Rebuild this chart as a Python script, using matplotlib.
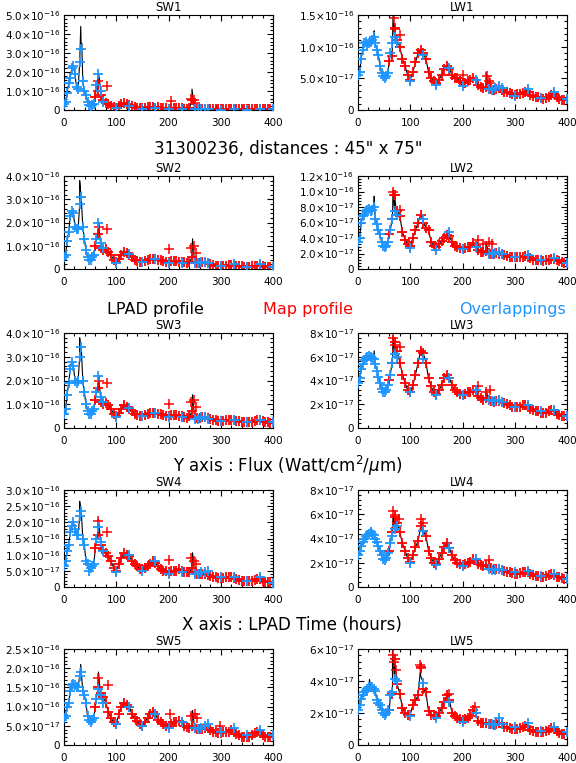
import numpy as np
import matplotlib
matplotlib.use("Agg")
import matplotlib.pyplot as plt
from matplotlib.ticker import MultipleLocator, AutoMinorLocator, FuncFormatter

# time samples (hours) shared by every band
t_ovl = [0, 3, 6, 9, 12, 15, 18, 21, 24, 27, 30, 33, 36, 39, 42, 45, 48, 51, 54, 57,
         62, 66, 70, 74, 99, 125, 150, 175, 200, 225, 250, 256, 263, 270, 276,
         300, 325, 350, 375, 400]
t_map = list(range(60, 400, 5))

# ---- SW1 (1e-16) ----
sw1_ovl = [0.3, 0.4, 0.9, 1.4, 1.7, 2.2, 2.3, 1.9, 1.2, 1.1, 2.5, 3.2, 1.5, 1.0, 0.8, 0.4, 0.25, 0.2, 0.25, 0.3,
           1.3, 1.9, 1.0, 0.4, 0.1, 0.2, 0.05, 0.1, 0.05, 0.05, 0.03, 0.03, 0.05, 0.03, 0.05,
           0.02, 0.05, 0.02, 0.05, 0.03]
sw1_map = [0.7, 1.0, 0.8, 0.5, 0.35, 0.3, 0.2, 0.15, 0.1, 0.2, 0.3, 0.35, 0.3, 0.25, 0.2, 0.15, 0.12,
           0.1, 0.08, 0.1, 0.15, 0.18, 0.15, 0.12, 0.15, 0.12, 0.1, 0.08, 0.06, 0.1, 0.12, 0.12, 0.1,
           0.08, 0.06, 0.05, 0.1, 0.5, 0.1, 0.05, 0.05, 0.05, 0.06, 0.05, 0.04, 0.05, 0.04, 0.03, 0.03,
           0.04, 0.05, 0.05, 0.05, 0.05, 0.04, 0.03, 0.03, 0.03, 0.03, 0.03, 0.04, 0.05, 0.05, 0.05,
           0.04, 0.03, 0.03, 0.03]
sw1_out = [(66, 1.5), (82, 1.25), (205, 0.45), (243, 0.6), (248, 0.55), (250, 0.35)]
sw1_spk = [(32, 4.4), (34, 3.5), (68, 1.6), (245, 1.1), (292, 0.2)]

# ---- LW1 (1e-17) ----
lw1_ovl = [5.6, 6.0, 8.0, 9.5, 10.5, 10.8, 10.3, 10.6, 10.8, 11.0, 11.5, 10.5, 9.5, 8.7, 7.0, 5.8, 5.3, 5.1, 5.4, 5.8,
           9.0, 10.5, 11.5, 10.5, 4.5, 8.7, 4.0, 6.6, 3.8, 4.8, 3.3, 3.2, 3.4, 3.8, 3.5,
           2.2, 3.3, 1.9, 2.9, 1.8]
lw1_map = [7.8, 8.5, 13.0, 11.0, 10.0, 8.0, 7.0, 5.5, 4.8, 6.0, 7.5, 9.0, 9.5, 9.0, 8.0, 6.0, 5.0, 4.5,
           4.3, 4.8, 5.5, 6.5, 7.0, 6.5, 5.5, 5.0, 5.0, 4.5, 4.2, 4.3, 4.5, 4.8, 5.0, 4.8, 4.0, 3.7,
           3.5, 3.6, 3.4, 3.3, 3.2, 3.3, 3.4, 3.2, 2.9, 2.8, 2.7, 2.5, 2.4, 2.5, 2.6, 2.7, 2.9, 2.8,
           2.4, 2.2, 2.0, 2.0, 1.9, 1.8, 1.9, 2.1, 2.4, 2.6, 2.1, 1.8, 1.6, 1.5]
lw1_out = [(68, 14.5), (70, 12.8), (80, 11.8), (201, 5.6), (246, 5.3), (250, 4.6), (252, 4.3)]
lw1_spk = [(31, 12.5), (67, 15.0), (245, 6.0)]

# ---- SW2 (1e-16) ----
sw2_ovl = [0.5, 0.6, 1.2, 1.6, 2.3, 2.5, 2.4, 1.8, 1.7, 1.7, 2.8, 3.1, 1.8, 1.3, 0.8, 0.5, 0.4, 0.4, 0.5, 0.6,
           1.3, 2.0, 1.1, 0.9, 0.25, 0.65, 0.3, 0.45, 0.25, 0.25, 0.25, 0.25, 0.3, 0.3, 0.25,
           0.15, 0.2, 0.1, 0.2, 0.1]
sw2_map = [1.0, 1.5, 0.9, 0.8, 0.85, 0.75, 0.6, 0.4, 0.3, 0.45, 0.6, 0.75, 0.7, 0.6, 0.5, 0.4, 0.35,
           0.3, 0.3, 0.35, 0.4, 0.45, 0.45, 0.45, 0.4, 0.4, 0.35, 0.3, 0.3, 0.35, 0.35, 0.35, 0.3,
           0.3, 0.28, 0.25, 0.3, 0.5, 0.3, 0.25, 0.25, 0.28, 0.3, 0.25, 0.2, 0.18, 0.15, 0.15, 0.15,
           0.15, 0.15, 0.18, 0.18, 0.18, 0.15, 0.12, 0.12, 0.1, 0.1, 0.1, 0.12, 0.15, 0.15, 0.15,
           0.12, 0.1, 0.1, 0.1]
sw2_out = [(67, 1.8), (83, 1.7), (200, 0.85), (243, 0.9), (248, 1.0), (252, 0.7)]
sw2_spk = [(30, 3.8), (32, 3.3), (246, 1.3)]

# ---- LW2 (1e-17) ----
lw2_ovl = [3.5, 4.0, 6.0, 6.8, 7.0, 7.5, 7.6, 7.8, 7.5, 7.6, 8.0, 6.5, 5.8, 5.0, 4.5, 3.5, 3.0, 2.8, 3.0, 3.5,
           5.0, 6.5, 7.5, 7.0, 2.7, 6.4, 2.5, 4.8, 2.6, 2.9, 2.0, 2.0, 2.1, 2.2, 2.0,
           1.5, 1.8, 1.2, 1.4, 0.8]
lw2_map = [4.5, 6.5, 9.5, 7.5, 6.8, 4.8, 3.8, 3.2, 3.0, 4.0, 5.0, 6.0, 7.0, 6.0, 5.3, 5.0, 3.5, 3.0,
           2.8, 3.2, 3.6, 4.0, 4.4, 4.2, 3.5, 3.0, 2.8, 2.7, 2.6, 2.7, 2.8, 2.9, 3.3, 3.0, 2.5, 2.2,
           2.2, 2.3, 2.1, 2.0, 2.0, 2.1, 2.0, 1.9, 1.8, 1.7, 1.6, 1.5, 1.5, 1.5, 1.5, 1.6, 1.7, 1.6,
           1.4, 1.2, 1.1, 1.1, 1.1, 1.0, 1.1, 1.2, 1.3, 1.3, 1.1, 1.0, 0.9, 0.8]
lw2_out = [(67, 10.0), (69, 9.6), (80, 7.6), (229, 3.7), (240, 3.2), (250, 3.5), (257, 3.2)]
lw2_spk = [(31, 9.4), (67, 10.2), (245, 3.5)]

# ---- SW3 (1e-16) ----
sw3_ovl = [0.6, 0.8, 1.4, 1.9, 2.5, 2.8, 2.6, 2.0, 1.9, 2.0, 3.0, 3.4, 2.0, 1.5, 1.0, 0.7, 0.6, 0.6, 0.7, 0.8,
           1.5, 2.2, 1.3, 1.1, 0.45, 0.85, 0.5, 0.65, 0.45, 0.45, 0.4, 0.4, 0.45, 0.45, 0.4,
           0.3, 0.35, 0.25, 0.35, 0.25]
sw3_map = [1.2, 1.7, 1.1, 1.0, 1.05, 0.95, 0.8, 0.6, 0.5, 0.65, 0.8, 0.95, 0.9, 0.8, 0.7, 0.6, 0.55,
           0.5, 0.5, 0.55, 0.6, 0.65, 0.65, 0.65, 0.6, 0.6, 0.55, 0.5, 0.5, 0.55, 0.55, 0.55, 0.5,
           0.5, 0.45, 0.42, 0.5, 0.7, 0.45, 0.42, 0.42, 0.45, 0.45, 0.42, 0.38, 0.35, 0.32, 0.3, 0.3,
           0.3, 0.32, 0.35, 0.35, 0.35, 0.3, 0.28, 0.26, 0.25, 0.25, 0.25, 0.27, 0.3, 0.32, 0.32,
           0.28, 0.25, 0.24, 0.23]
sw3_out = [(67, 2.0), (83, 1.9), (200, 1.0), (243, 1.1), (248, 1.2), (252, 0.9)]
sw3_spk = [(30, 3.8), (32, 3.3), (246, 1.4)]

# ---- LW3 (1e-17) ----
lw3_ovl = [3.8, 4.2, 5.0, 5.4, 5.7, 5.9, 6.0, 6.1, 6.0, 5.9, 5.8, 5.4, 4.8, 4.3, 3.8, 3.3, 3.0, 3.0, 3.2, 3.6,
           4.5, 5.5, 6.2, 6.0, 3.0, 5.8, 2.8, 4.2, 2.8, 3.2, 2.4, 2.3, 2.3, 2.4, 2.2,
           1.8, 1.9, 1.4, 1.5, 1.0]
lw3_map = [4.0, 5.5, 7.2, 6.5, 5.5, 4.5, 3.8, 3.2, 3.0, 3.6, 4.5, 5.5, 6.5, 6.3, 5.5, 4.2, 3.5, 3.0,
           2.9, 3.2, 3.6, 4.2, 4.5, 4.2, 3.6, 3.2, 3.0, 2.9, 2.8, 2.9, 3.0, 3.0, 3.2, 3.1, 2.7, 2.5,
           2.4, 2.5, 2.4, 2.3, 2.2, 2.3, 2.3, 2.2, 2.1, 2.0, 1.9, 1.8, 1.8, 1.8, 1.8, 1.9, 1.9, 1.8,
           1.6, 1.5, 1.4, 1.4, 1.3, 1.3, 1.3, 1.4, 1.5, 1.4, 1.2, 1.1, 1.0, 1.0]
lw3_out = [(67, 7.6), (70, 7.0), (80, 6.8), (229, 3.5), (245, 3.0), (252, 3.2)]
lw3_spk = [(31, 6.5), (67, 7.8), (245, 3.2)]

# ---- SW4 (1e-16) ----
sw4_ovl = [0.65, 0.8, 1.1, 1.3, 1.7, 1.9, 2.0, 1.8, 1.6, 1.6, 2.2, 2.35, 1.5, 1.3, 0.8, 0.7, 0.5, 0.6, 0.65, 0.7,
           1.5, 1.85, 1.4, 1.1, 0.45, 1.0, 0.5, 0.8, 0.4, 0.45, 0.4, 0.4, 0.45, 0.45, 0.5,
           0.3, 0.3, 0.2, 0.3, 0.12]
sw4_map = [1.2, 1.6, 1.3, 1.15, 1.05, 0.95, 0.8, 0.6, 0.5, 0.7, 0.9, 1.05, 1.0, 0.95, 0.8, 0.7, 0.65,
           0.55, 0.55, 0.6, 0.65, 0.7, 0.8, 0.75, 0.65, 0.55, 0.5, 0.5, 0.45, 0.5, 0.5, 0.5, 0.55,
           0.5, 0.45, 0.45, 0.45, 0.6, 0.45, 0.4, 0.4, 0.4, 0.4, 0.38, 0.35, 0.3, 0.3, 0.28, 0.28,
           0.28, 0.3, 0.3, 0.3, 0.28, 0.25, 0.22, 0.2, 0.2, 0.2, 0.18, 0.2, 0.22, 0.25, 0.25,
           0.2, 0.17, 0.15, 0.14]
sw4_out = [(66, 2.05), (83, 1.7), (200, 0.85), (243, 0.9), (248, 0.8), (252, 0.7)]
sw4_spk = [(30, 2.65), (32, 2.4), (66, 2.1), (246, 1.06)]

# ---- LW4 (1e-17) ----
lw4_ovl = [2.6, 3.0, 3.4, 3.7, 4.0, 4.2, 4.3, 4.4, 4.5, 4.4, 4.3, 4.0, 3.7, 3.4, 3.0, 2.6, 2.3, 2.2, 2.4, 2.8,
           3.6, 4.2, 4.8, 5.0, 2.0, 4.6, 1.8, 3.2, 1.7, 2.3, 1.5, 1.4, 1.4, 1.5, 1.4,
           1.2, 1.3, 0.9, 1.1, 0.7]
lw4_map = [3.0, 4.5, 5.8, 5.3, 4.5, 3.6, 3.0, 2.4, 2.1, 2.6, 3.3, 3.8, 5.0, 4.6, 4.2, 3.0, 2.4, 2.0,
           1.9, 2.3, 2.8, 3.3, 3.6, 3.2, 2.6, 2.2, 2.0, 1.9, 1.8, 1.9, 2.0, 2.1, 2.3, 2.2, 1.9, 1.8,
           1.7, 1.8, 1.7, 1.6, 1.5, 1.5, 1.5, 1.4, 1.3, 1.25, 1.2, 1.15, 1.1, 1.1, 1.15, 1.2, 1.25, 1.2,
           1.05, 0.95, 0.9, 0.9, 0.85, 0.85, 0.9, 0.95, 1.05, 1.0, 0.85, 0.8, 0.75, 0.7]
lw4_out = [(67, 6.3), (70, 5.9), (78, 5.6), (120, 5.6), (124, 5.3), (230, 2.0), (251, 2.2)]
lw4_spk = [(24, 4.9), (67, 6.0), (120, 5.4)]

# ---- SW5 (1e-16) ----
sw5_ovl = [0.7, 0.75, 1.0, 1.1, 1.4, 1.55, 1.6, 1.55, 1.5, 1.5, 1.8, 1.9, 1.4, 1.3, 1.1, 0.75, 0.65, 0.6, 0.65, 0.7,
           1.2, 1.45, 1.3, 1.1, 0.55, 1.0, 0.5, 0.8, 0.45, 0.6, 0.45, 0.42, 0.45, 0.5, 0.55,
           0.35, 0.45, 0.25, 0.4, 0.25]
sw5_map = [1.0, 1.5, 1.35, 1.25, 1.1, 0.85, 0.7, 0.6, 0.55, 0.8, 1.0, 1.1, 1.05, 1.0, 0.8, 0.7, 0.62,
           0.55, 0.5, 0.6, 0.7, 0.8, 0.85, 0.8, 0.65, 0.6, 0.55, 0.5, 0.5, 0.55, 0.6, 0.6, 0.62,
           0.6, 0.5, 0.48, 0.45, 0.5, 0.45, 0.42, 0.42, 0.42, 0.45, 0.45, 0.38, 0.35, 0.33, 0.32, 0.32,
           0.33, 0.35, 0.35, 0.38, 0.35, 0.28, 0.25, 0.22, 0.22, 0.22, 0.22, 0.25, 0.3, 0.35, 0.32,
           0.25, 0.22, 0.2, 0.2]
sw5_out = [(66, 1.75), (84, 1.55), (202, 0.8), (244, 0.75), (250, 0.8), (255, 0.7), (298, 0.5)]
sw5_spk = [(32, 2.1), (66, 1.9), (246, 0.9)]

# ---- LW5 (1e-17) ----
lw5_ovl = [2.2, 2.5, 2.9, 3.1, 3.3, 3.4, 3.5, 3.6, 3.65, 3.6, 3.5, 3.4, 2.8, 2.6, 2.5, 2.2, 2.0, 1.9, 2.0, 2.2,
           3.1, 3.3, 4.1, 4.0, 1.8, 3.9, 1.7, 2.7, 1.45, 2.0, 1.3, 1.3, 1.25, 1.7, 1.3,
           1.1, 1.35, 0.85, 1.15, 0.8]
lw5_map = [2.2, 3.2, 5.4, 3.8, 3.2, 2.3, 2.0, 1.9, 1.9, 2.5, 2.8, 3.1, 4.9, 3.5, 3.3, 2.1, 1.9, 1.9,
           1.8, 2.0, 2.3, 2.7, 3.1, 2.8, 2.0, 1.8, 1.7, 1.6, 1.55, 1.6, 1.7, 1.8, 2.2, 2.0, 1.5, 1.4,
           1.35, 1.4, 1.3, 1.3, 1.25, 1.3, 1.35, 1.3, 1.15, 1.1, 1.05, 1.0, 1.0, 1.0, 1.05, 1.1, 1.2, 1.1,
           0.95, 0.85, 0.8, 0.8, 0.8, 0.8, 0.85, 0.95, 1.05, 1.0, 0.85, 0.75, 0.7, 0.7]
lw5_out = [(67, 5.6), (69, 5.2), (72, 4.7), (118, 5.0), (121, 4.8), (174, 3.2), (224, 2.4)]
lw5_spk = [(22, 4.1), (66, 5.95), (120, 4.3)]

names = ["SW1", "LW1", "SW2", "LW2", "SW3", "LW3", "SW4", "LW4", "SW5", "LW5"]
units = [1e-16, 1e-17] * 5
band_ovl = [sw1_ovl, lw1_ovl, sw2_ovl, lw2_ovl, sw3_ovl, lw3_ovl, sw4_ovl, lw4_ovl, sw5_ovl, lw5_ovl]
band_map = [sw1_map, lw1_map, sw2_map, lw2_map, sw3_map, lw3_map, sw4_map, lw4_map, sw5_map, lw5_map]
band_out = [sw1_out, lw1_out, sw2_out, lw2_out, sw3_out, lw3_out, sw4_out, lw4_out, sw5_out, lw5_out]
band_spk = [sw1_spk, lw1_spk, sw2_spk, lw2_spk, sw3_spk, lw3_spk, sw4_spk, lw4_spk, sw5_spk, lw5_spk]

# axis settings: (ymax, major step, decimals) in the band's unit
yaxis = [(5.0, 1.0, 1), (15.0, 5.0, 1), (4.0, 1.0, 1), (12.0, 2.0, 1), (4.0, 1.0, 1),
         (8.0, 2.0, 0), (3.0, 0.5, 1), (8.0, 2.0, 0), (2.5, 0.5, 1), (6.0, 2.0, 0)]

RED = "#ff0000"
BLUE = "#1e96ff"


def sci_formatter(dec):
    def fmt(v, pos):
        if abs(v) < 1e-30:
            return "0"
        e = int(np.floor(np.log10(abs(v)) + 1e-6))
        m = v / 10.0 ** e
        return r"$%.*f{\times}10^{%d}$" % (dec, m, e)
    return FuncFormatter(fmt)


W, H = 576, 763
fig = plt.figure(figsize=(W / 100, H / 100), dpi=100)
plt.rcParams["font.family"] = "DejaVu Sans"
plt.rcParams["mathtext.fontset"] = "dejavusans"

tops = [15, 176, 333, 490, 649]
bottoms = [110, 269, 428, 587, 745]
lefts = [64, 358]
width = 209

for i, name in enumerate(names):
    row, col = i // 2, i % 2
    ax = fig.add_axes([lefts[col] / W, 1 - bottoms[row] / H,
                       width / W, (bottoms[row] - tops[row]) / H])
    u = units[i]
    ymax, step, dec = yaxis[i]

    ovl = np.array(band_ovl[i]) * u
    mp = np.array(band_map[i]) * u
    out_t = [p[0] for p in band_out[i]]
    out_y = np.array([p[1] for p in band_out[i]]) * u
    spk_t = [p[0] for p in band_spk[i]]
    spk_y = np.array([p[1] for p in band_spk[i]]) * u

    # LPAD profile: line through all samples including the spikes
    lt = np.concatenate([t_ovl, t_map, spk_t])
    ly = np.concatenate([ovl, mp, spk_y])
    order = np.argsort(lt, kind="stable")
    ax.plot(lt[order], ly[order], color="black", lw=0.8, zorder=1)

    ax.plot(t_map, mp, "+", color=RED, ms=7, mew=1.3, zorder=2)
    ax.plot(out_t, out_y, "+", color=RED, ms=7, mew=1.1, zorder=2)
    ax.plot(t_ovl, ovl, "+", color=BLUE, ms=7, mew=1.3, zorder=3)

    ax.set_xlim(0, 400)
    ax.set_ylim(0, ymax * u)
    ax.xaxis.set_major_locator(MultipleLocator(100))
    ax.xaxis.set_minor_locator(AutoMinorLocator(5))
    ax.yaxis.set_major_locator(MultipleLocator(step * u))
    ax.yaxis.set_minor_locator(AutoMinorLocator(5))
    ax.yaxis.set_major_formatter(sci_formatter(dec))
    ax.tick_params(which="both", direction="in", top=True, right=True, labelsize=7.5)
    ax.tick_params(which="major", length=4, width=0.8)
    ax.tick_params(which="minor", length=2, width=0.8)
    ax.tick_params(axis="x", pad=6)
    ax.tick_params(axis="y", pad=3)
    for s in ax.spines.values():
        s.set_linewidth(0.8)
    ax.set_title(name, fontsize=8.5, pad=3)

fig.text(288 / W, 1 - 149 / H, '31300236, distances : 45" x 75"', ha="center", va="center", fontsize=12)
fig.text(107 / W, 1 - 309 / H, "LPAD profile", ha="left", va="center", fontsize=11.5, color="black")
fig.text(308 / W, 1 - 309 / H, "Map profile", ha="center", va="center", fontsize=11.5, color=RED)
fig.text(566 / W, 1 - 309 / H, "Overlappings", ha="right", va="center", fontsize=11.5, color=BLUE)
fig.text(288 / W, 1 - 466 / H, r"Y axis : Flux (Watt/cm$^2$/$\mu$m)", ha="center", va="center", fontsize=12)
fig.text(292 / W, 1 - 625 / H, "X axis : LPAD Time (hours)", ha="center", va="center", fontsize=12)

fig.savefig("out.png", dpi=100)
